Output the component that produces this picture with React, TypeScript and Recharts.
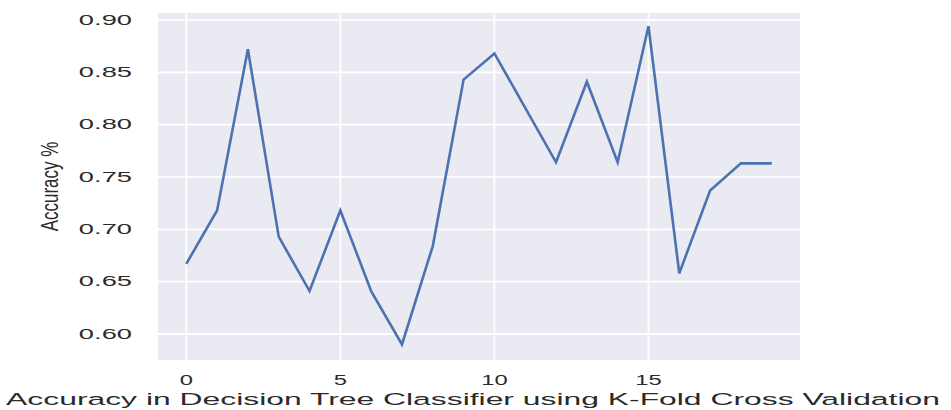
import React from "react";
import { LineChart, Line, XAxis, YAxis, CartesianGrid, Label } from "recharts";

// fold index and accuracy
const folds = [0, 1, 2, 3, 4, 5, 6, 7, 8, 9, 10, 11, 12, 13, 14, 15, 16, 17, 18, 19];
const accuracy = [
    0.667, 0.718, 0.872, 0.693, 0.641, 0.718, 0.641, 0.590, 0.684, 0.843,
    0.868, 0.816, 0.764, 0.841, 0.764, 0.894, 0.658, 0.737, 0.763, 0.763
];
const xTicks = [0, 5, 10, 15];
const yTicks = [0.6, 0.65, 0.7, 0.75, 0.8, 0.85, 0.9];

const data = folds.map((f, i) => ({ fold: f, acc: accuracy[i] }));

const FONT = "'Liberation Sans', Arial, sans-serif";
const TEXT = "#2a2a2a";

const YTick = ({ x, y, payload }: any) => (
    <text
        transform={`translate(${x},${y}) scale(1.95,1)`}
        textAnchor="end"
        dominantBaseline="central"
        fill={TEXT}
        fontSize={14}
        fontFamily={FONT}
    >
        {Number(payload.value).toFixed(2)}
    </text>
);

const XTick = ({ x, y, payload }: any) => (
    <text
        transform={`translate(${x},${y + 24}) scale(1.7,1)`}
        textAnchor="middle"
        fill={TEXT}
        fontSize={14}
        fontFamily={FONT}
    >
        {payload.value}
    </text>
);

const XTitle = ({ viewBox }: any) => (
    <text
        transform={`translate(${viewBox.x + viewBox.width / 2 - 6},${viewBox.y + 44}) scale(1.93,1)`}
        textAnchor="middle"
        fill={TEXT}
        fontSize={16.5}
        fontFamily={FONT}
    >
        Accuracy in Decision Tree Classifier using K-Fold Cross Validation
    </text>
);

const YTitle = ({ viewBox }: any) => (
    <text
        transform={`translate(49,${viewBox.y + viewBox.height / 2}) scale(1.45,1) rotate(-90)`}
        textAnchor="middle"
        dominantBaseline="central"
        fill={TEXT}
        fontSize={17}
        fontFamily={FONT}
    >
        Accuracy %
    </text>
);

const App = () => {
    return (
        <div style={{ position: "absolute", left: 0, top: 0, width: 951, height: 410, background: "#fff" }}>
            <LineChart width={951} height={410} data={data} margin={{ top: 12, right: 150, left: 0, bottom: 0 }}>
                <CartesianGrid fill="#EAEAF2" stroke="#ffffff" strokeWidth={1.8} />
                <XAxis
                    dataKey="fold"
                    type="number"
                    domain={[-0.95, 19.95]}
                    ticks={xTicks}
                    allowDataOverflow
                    axisLine={false}
                    tickLine={false}
                    tickSize={0}
                    tickMargin={0}
                    height={49}
                    tick={<XTick />}
                >
                    <Label content={<XTitle />} />
                </XAxis>
                <YAxis
                    type="number"
                    domain={[0.5742, 0.9076]}
                    ticks={yTicks}
                    allowDataOverflow
                    axisLine={false}
                    tickLine={false}
                    tickSize={0}
                    tickMargin={25}
                    width={157}
                    tick={<YTick />}
                >
                    <Label content={<YTitle />} />
                </YAxis>
                <Line
                    type="linear"
                    dataKey="acc"
                    stroke="#4C72B0"
                    strokeWidth={2.6}
                    dot={false}
                    isAnimationActive={false}
                />
            </LineChart>
        </div>
    );
};

export default App;
